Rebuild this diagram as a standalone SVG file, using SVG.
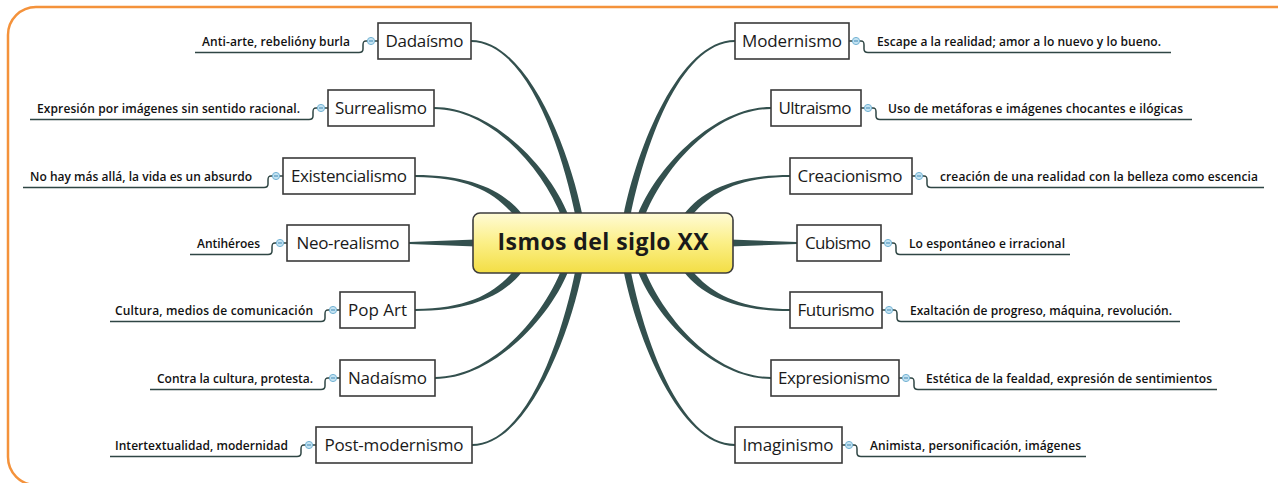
<svg xmlns="http://www.w3.org/2000/svg" width="1278" height="483" viewBox="0 0 1278 483">
<style>
.frame{fill:#ffffff;stroke:#f4923b;stroke-width:2.5}
.conn{fill:#33504e;stroke:none}
.sub{fill:none;stroke:#2f4644;stroke-width:1.5}
.box{fill:#ffffff;stroke:#3a3a3a;stroke-width:1.6}
.lbl{font-family:"Open Sans","Liberation Sans",sans-serif;font-size:17px;fill:#1a1a1a;text-anchor:middle}
.note{font-family:"Open Sans","Liberation Sans",sans-serif;font-size:12px;font-weight:600;fill:#111111}
.title{font-family:"Open Sans","Liberation Sans",sans-serif;font-size:23px;font-weight:700;fill:#1a1a1a;text-anchor:middle}
</style>
<defs>
<linearGradient id="yel" x1="0" y1="0" x2="0" y2="1">
<stop offset="0" stop-color="#fffbd6"/>
<stop offset="0.5" stop-color="#fbef86"/>
<stop offset="1" stop-color="#f3de45"/>
</linearGradient>
<g id="icon">
<circle cx="0" cy="0" r="3.6" fill="#c4e3f2" stroke="#74b3d4" stroke-width="1"/>
<line x1="-2" y1="0" x2="2" y2="0" stroke="#3f87b4" stroke-width="1"/>
</g>
</defs>
<rect class="frame" x="8" y="7" width="1300" height="478" rx="28"/>

<g id="connectors">
<path class="conn" d="M471,42 C527,42 562.57,150.68 575.57,216.68 L582.43,215.32 C569.43,149.32 527,40 471,40 Z"/>
<path class="conn" d="M434,109 C492,109 542.75,169.29 561.75,217.29 L568.25,214.71 C549.25,166.71 492,107 434,107 Z"/>
<path class="conn" d="M415,177 C470,177 497.25,194.17 516.25,218.17 L521.75,213.83 C502.75,189.83 470,175 415,175 Z"/>
<path class="conn" d="M409,242 L476,239.5 L476,246.5 L409,244 Z"/>
<path class="conn" d="M415,309 C470,309 497.25,291.83 516.25,267.83 L521.75,272.17 C502.75,296.17 470,311 415,311 Z"/>
<path class="conn" d="M435,377 C492,377 542.75,316.71 561.75,268.71 L568.25,271.29 C549.25,319.29 492,379 435,379 Z"/>
<path class="conn" d="M472,444 C527,444 562.57,335.32 575.57,269.32 L582.43,270.68 C569.43,336.68 527,446 472,446 Z"/>
<path class="conn" d="M735,42 C679,42 643.43,150.68 630.43,216.68 L623.57,215.32 C636.57,149.32 679,40 735,40 Z"/>
<path class="conn" d="M771,109 C714,109 663.25,169.29 644.25,217.29 L637.75,214.71 C656.75,166.71 714,107 771,107 Z"/>
<path class="conn" d="M790,177 C736,177 708.75,194.17 689.75,218.17 L684.25,213.83 C703.25,189.83 736,175 790,175 Z"/>
<path class="conn" d="M797,242 L730,239.5 L730,246.5 L797,244 Z"/>
<path class="conn" d="M790,309 C736,309 708.75,291.83 689.75,267.83 L684.25,272.17 C703.25,296.17 736,311 790,311 Z"/>
<path class="conn" d="M771,377 C714,377 663.25,316.71 644.25,268.71 L637.75,271.29 C656.75,319.29 714,379 771,379 Z"/>
<path class="conn" d="M735,444 C679,444 643.43,335.32 630.43,269.32 L623.57,270.68 C636.57,336.68 679,446 735,446 Z"/>

<path class="sub" d="M378,41 H366 C363.5,41 363,42 363,45 V49 C363,51.5 362,52.5 359,52.5 H195"/>
<path class="sub" d="M328,108 H316 C313.5,108 313,109 313,112 V116 C313,118.5 312,119.5 309,119.5 H30"/>
<path class="sub" d="M283,176 H271 C268.5,176 268,177 268,180 V184 C268,186.5 267,187.5 264,187.5 H23"/>
<path class="sub" d="M287,243 H275 C272.5,243 272,244 272,247 V251 C272,253.5 271,254.5 268,254.5 H190"/>
<path class="sub" d="M340,310 H328 C325.5,310 325,311 325,314 V318 C325,320.5 324,321.5 321,321.5 H110"/>
<path class="sub" d="M340,378 H328 C325.5,378 325,379 325,382 V386 C325,388.5 324,389.5 321,389.5 H150"/>
<path class="sub" d="M316,445 H304 C301.5,445 301,446 301,449 V453 C301,455.5 300,456.5 297,456.5 H110"/>
<path class="sub" d="M849,41 H861 C863.5,41 864,42 864,45 V49 C864,51.5 865,52.5 868,52.5 H1171"/>
<path class="sub" d="M861,108 H873 C875.5,108 876,109 876,112 V116 C876,118.5 877,119.5 880,119.5 H1192"/>
<path class="sub" d="M912,176 H924 C926.5,176 927,177 927,180 V184 C927,186.5 928,187.5 931,187.5 H1264"/>
<path class="sub" d="M881,243 H893 C895.5,243 896,244 896,247 V251 C896,253.5 897,254.5 900,254.5 H1070"/>
<path class="sub" d="M882,310 H894 C896.5,310 897,311 897,314 V318 C897,320.5 898,321.5 901,321.5 H1180"/>
<path class="sub" d="M899,378 H911 C913.5,378 914,379 914,382 V386 C914,388.5 915,389.5 918,389.5 H1217"/>
<path class="sub" d="M842,445 H854 C856.5,445 857,446 857,449 V453 C857,455.5 858,456.5 861,456.5 H1086"/>

<use href="#icon" x="371" y="41"/>
<use href="#icon" x="321" y="108"/>
<use href="#icon" x="276" y="176"/>
<use href="#icon" x="280" y="243"/>
<use href="#icon" x="333" y="310"/>
<use href="#icon" x="333" y="378"/>
<use href="#icon" x="309" y="445"/>
<use href="#icon" x="856" y="41"/>
<use href="#icon" x="868" y="108"/>
<use href="#icon" x="919" y="176"/>
<use href="#icon" x="888" y="243"/>
<use href="#icon" x="889" y="310"/>
<use href="#icon" x="906" y="378"/>
<use href="#icon" x="849" y="445"/>
</g>

<g id="center">
<rect x="473" y="213" width="260" height="60" rx="7" fill="url(#yel)" stroke="#3c3c3c" stroke-width="1.6"/>
<text class="title" x="603" y="250" textLength="211">Ismos del siglo XX</text>
</g>

<g id="dadaismo">
<rect class="box" x="378" y="23" width="93" height="36"/>
<text class="lbl" x="424.5" y="47" textLength="78">Dadaísmo</text>
<text class="note" x="202" y="45.5" textLength="148">Anti-arte, rebelióny burla</text>
</g>
<g id="surrealismo">
<rect class="box" x="328" y="90" width="106" height="36"/>
<text class="lbl" x="381" y="114" textLength="92">Surrealismo</text>
<text class="note" x="37" y="112.5" textLength="263">Expresión por imágenes sin sentido racional.</text>
</g>
<g id="existencialismo">
<rect class="box" x="283" y="158" width="132" height="36"/>
<text class="lbl" x="349" y="182" textLength="116">Existencialismo</text>
<text class="note" x="30" y="180.5" textLength="222">No hay más allá, la vida es un absurdo</text>
</g>
<g id="neorealismo">
<rect class="box" x="287" y="225" width="122" height="36"/>
<text class="lbl" x="348" y="249" textLength="103">Neo-realismo</text>
<text class="note" x="197" y="247.5" textLength="63">Antihéroes</text>
</g>
<g id="popart">
<rect class="box" x="340" y="292" width="75" height="36"/>
<text class="lbl" x="377.5" y="316" textLength="59">Pop Art</text>
<text class="note" x="115" y="314.5" textLength="198">Cultura, medios de comunicación</text>
</g>
<g id="nadaismo">
<rect class="box" x="340" y="360" width="95" height="36"/>
<text class="lbl" x="387.5" y="384" textLength="79">Nadaísmo</text>
<text class="note" x="157" y="382.5" textLength="156">Contra la cultura, protesta.</text>
</g>
<g id="postmodernismo">
<rect class="box" x="316" y="427" width="156" height="36"/>
<text class="lbl" x="394" y="451" textLength="139">Post-modernismo</text>
<text class="note" x="115" y="449.5" textLength="173">Intertextualidad, modernidad</text>
</g>

<g id="modernismo">
<rect class="box" x="735" y="23" width="114" height="36"/>
<text class="lbl" x="792" y="47" textLength="100">Modernismo</text>
<text class="note" x="877" y="45.5" textLength="284">Escape a la realidad; amor a lo nuevo y lo bueno.</text>
</g>
<g id="ultraismo">
<rect class="box" x="771" y="90" width="90" height="36"/>
<text class="lbl" x="815" y="114" textLength="73">Ultraismo</text>
<text class="note" x="888" y="112.5" textLength="295">Uso de metáforas e imágenes chocantes e ilógicas</text>
</g>
<g id="creacionismo">
<rect class="box" x="790" y="158" width="122" height="36"/>
<text class="lbl" x="850" y="182" textLength="105">Creacionismo</text>
<text class="note" x="940" y="180.5" textLength="318">creación de una realidad con la belleza como escencia</text>
</g>
<g id="cubismo">
<rect class="box" x="797" y="225" width="84" height="36"/>
<text class="lbl" x="838" y="249" textLength="66">Cubismo</text>
<text class="note" x="909" y="247.5" textLength="156">Lo espontáneo e irracional</text>
</g>
<g id="futurismo">
<rect class="box" x="790" y="292" width="92" height="36"/>
<text class="lbl" x="836" y="316" textLength="77">Futurismo</text>
<text class="note" x="910" y="314.5" textLength="262">Exaltación de progreso, máquina, revolución.</text>
</g>
<g id="expresionismo">
<rect class="box" x="771" y="360" width="128" height="36"/>
<text class="lbl" x="834" y="384" textLength="112">Expresionismo</text>
<text class="note" x="926" y="382.5" textLength="286">Estética de la fealdad, expresión de sentimientos</text>
</g>
<g id="imaginismo">
<rect class="box" x="735" y="427" width="107" height="36"/>
<text class="lbl" x="788" y="451" textLength="91">Imaginismo</text>
<text class="note" x="870" y="449.5" textLength="211">Animista, personificación, imágenes</text>
</g>
</svg>
